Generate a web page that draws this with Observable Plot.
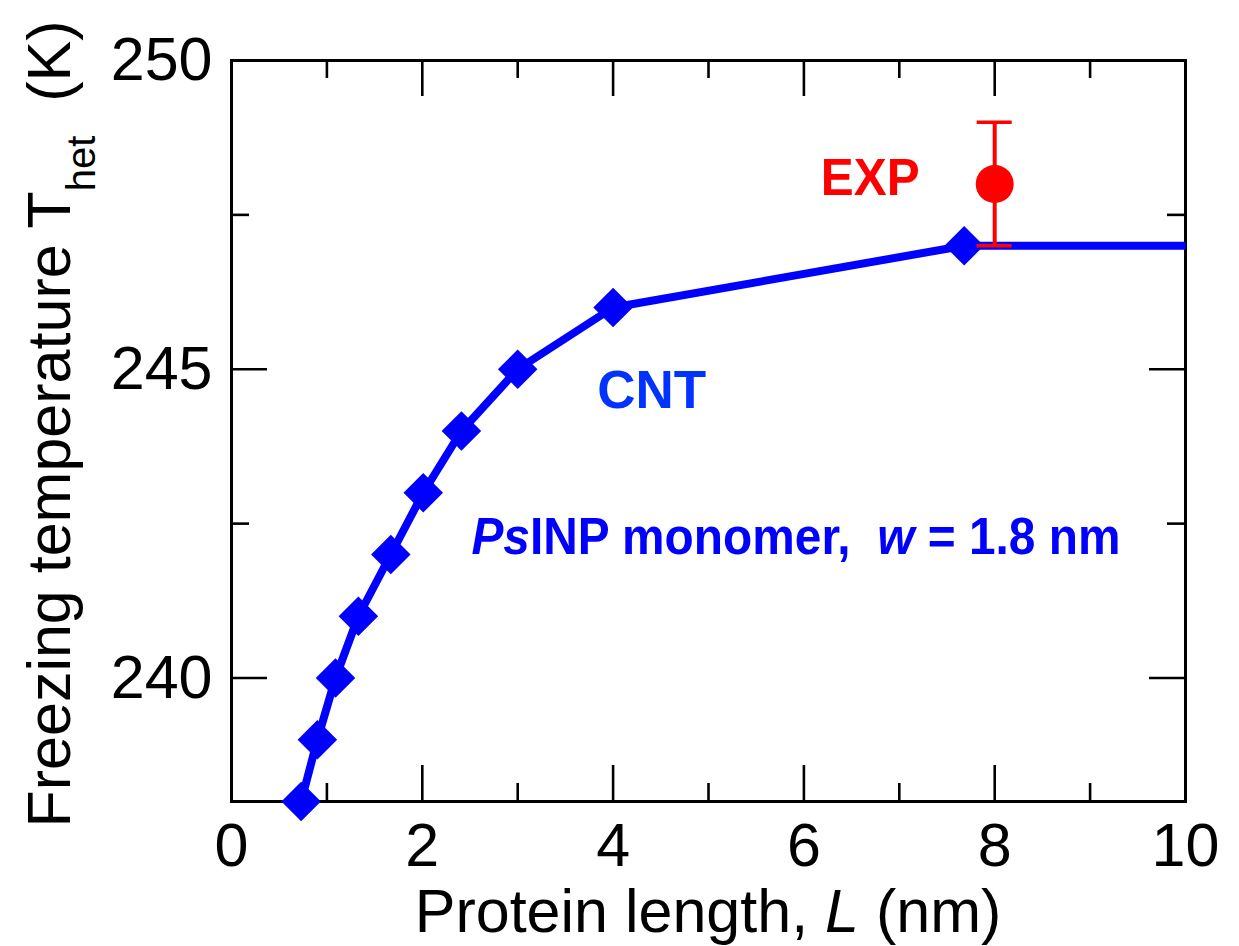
<!DOCTYPE html>
<html><head><meta charset="utf-8">
<script src="https://cdn.jsdelivr.net/npm/d3@7"></script>
<script src="https://cdn.jsdelivr.net/npm/@observablehq/plot@0.6"></script>
<style>body{margin:0;background:#fff;} svg{display:block;}</style>
</head><body><div id="chart"></div>
<script>
// ---- data ----
const cntL = [0.73, 0.90, 1.09, 1.33, 1.67, 2.01, 2.41, 3.00, 4.00, 7.68];
const cntT = [238, 239, 240, 241, 242, 243, 244, 245, 246, 247];
const lineTailL = [10];
const lineTailT = [247];
const expL = [8.0];
const expT = [248.0];
const expLo = [247.0];
const expHi = [249.0];
const xMajor = [0, 2, 4, 6, 8, 10];
const xMinor = [1, 3, 5, 7, 9];
const yMajor = [240, 245, 250];
const yMinor = [242.5, 247.5];
const xDomain = [0, 10];
const yDomain = [238, 250];

// ---- layout ----
const W = 1239, H = 946, mL = 231, mR = 54, mT = 60, mB = 145;
const innerW = W - mL - mR, innerH = H - mT - mB;
const FONT = "'Liberation Sans', Arial, Helvetica, sans-serif";
const BLUE = "#0000ff", CNTBLUE = "#0033ff", RED = "#ff0000";

const cnt = cntL.map((L, i) => ({L, T: cntT[i]}));
const lineData = cnt.concat(lineTailL.map((L, i) => ({L, T: lineTailT[i]})));
const exp = expL.map((L, i) => ({L, T: expT[i], lo: expLo[i], hi: expHi[i]}));

function richText(parts, o) {
  return (index, scales, values, dims) => {
    const [px, py] = o.at(scales, dims);
    const g = d3.create("svg:g")
      .attr("transform", `translate(${px},${py}) ${o.transform || ""}`);
    const t = g.append("text")
      .attr("text-anchor", o.anchor || "start")
      .attr("font-family", FONT)
      .attr("font-size", o.size)
      .attr("font-weight", o.weight || "normal")
      .attr("fill", o.fill || "black")
      .style("white-space", "pre");
    for (const p of parts) {
      const s = t.append("tspan").text(p.t);
      if (p.italic) s.attr("font-style", "italic");
      if (p.size) s.attr("font-size", p.size);
      if (p.dy) s.attr("dy", p.dy);
    }
    return g.node();
  };
}

const tickStyle = {stroke: "black", strokeWidth: 2.6};

const chart = Plot.plot({
  width: W, height: H,
  marginLeft: mL, marginRight: mR, marginTop: mT, marginBottom: mB,
  style: {fontFamily: FONT, background: "white"},
  x: {domain: xDomain},
  y: {domain: yDomain},
  marks: [
    // inward ticks on all four sides
    Plot.tickX(xMajor, {x: d => d, insetTop: innerH - 36, ...tickStyle}),
    Plot.tickX(xMinor, {x: d => d, insetTop: innerH - 18, ...tickStyle}),
    Plot.tickX(xMajor, {x: d => d, insetBottom: innerH - 36, ...tickStyle}),
    Plot.tickX(xMinor, {x: d => d, insetBottom: innerH - 18, ...tickStyle}),
    Plot.tickY(yMajor, {y: d => d, insetRight: innerW - 36, ...tickStyle}),
    Plot.tickY(yMinor, {y: d => d, insetRight: innerW - 18, ...tickStyle}),
    Plot.tickY(yMajor, {y: d => d, insetLeft: innerW - 36, ...tickStyle}),
    Plot.tickY(yMinor, {y: d => d, insetLeft: innerW - 18, ...tickStyle}),
    Plot.axisX(xMajor, {anchor: "bottom", tickSize: 0, tickPadding: 21, fontSize: 61, label: null, tickFormat: d => String(d)}),
    Plot.axisY(yMajor, {anchor: "left", tickSize: 0, tickPadding: 19, fontSize: 61, label: null, tickFormat: d => String(d)}),
    Plot.frame({stroke: "black", strokeWidth: 3}),
    // CNT curve
    Plot.line(lineData, {x: "L", y: "T", stroke: BLUE, strokeWidth: 8, strokeLinecap: "butt"}),
    Plot.dot(cnt, {x: "L", y: "T", symbol: "diamond2", r: 17.8, fill: BLUE, stroke: "none"}),
    // experiment
    Plot.ruleX(exp, {x: "L", y1: "lo", y2: "hi", stroke: RED, strokeWidth: 4}),
    Plot.ruleY(exp, {y: "hi", x1: "L", x2: "L", insetLeft: -17.5, insetRight: -17.5, stroke: RED, strokeWidth: 3.5}),
    Plot.ruleY(exp, {y: "lo", x1: "L", x2: "L", insetLeft: -17.5, insetRight: -17.5, stroke: RED, strokeWidth: 3.5}),
    Plot.dot(exp, {x: "L", y: "T", r: 19, fill: RED, stroke: "none"}),
    // annotations
    richText([{t: "EXP"}], {at: s => [s.x(6.70), s.y(247.82)], anchor: "middle", size: 52, weight: "bold", fill: RED, transform: "scale(0.95,1)"}),
    richText([{t: "CNT"}], {at: s => [s.x(4.41), s.y(244.37)], anchor: "middle", size: 53, weight: "bold", fill: CNTBLUE}),
    richText([{t: "Ps", italic: true}, {t: "INP monomer,  "}, {t: "w", italic: true}, {t: " = 1.8 nm"}],
      {at: s => [s.x(2.52), s.y(242.0)], anchor: "start", size: 52, weight: "bold", fill: BLUE, transform: "scale(0.92,1)"}),
    // axis titles
    richText([{t: "Protein length, "}, {t: "L", italic: true}, {t: " (nm)"}],
      {at: (s, d) => [(d.marginLeft + d.width - d.marginRight) / 2, d.height - 14], anchor: "middle", size: 61}),
    richText([{t: "Freezing temperature T"}, {t: "het", size: 40, dy: 25}, {t: "  (K)", dy: -25}],
      {at: (s, d) => [70, 424], anchor: "middle", size: 61, transform: "rotate(-90)"})
  ]
});
document.getElementById("chart").appendChild(chart);
</script>
</body></html>
